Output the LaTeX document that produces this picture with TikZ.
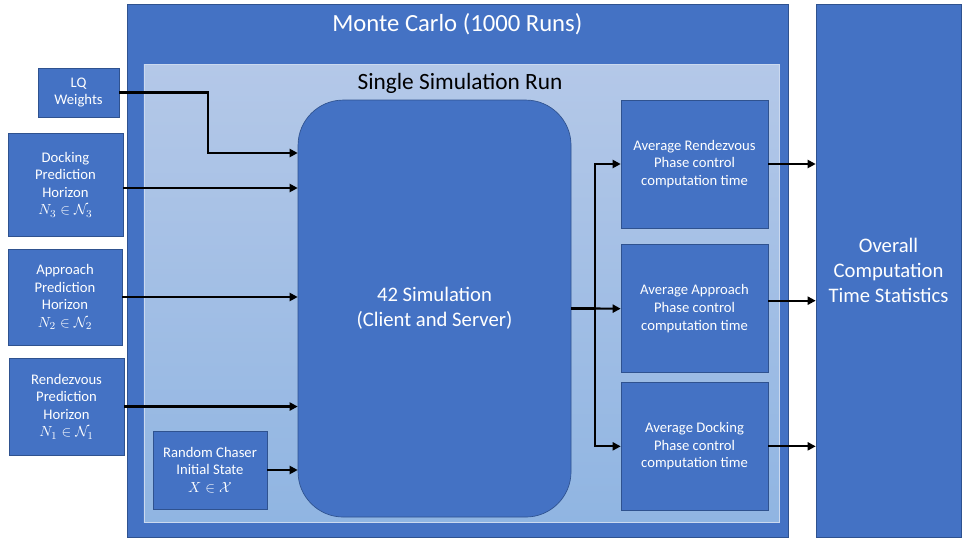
\documentclass[tikz,border=0pt]{standalone}
\usepackage{fontspec}
\setmainfont{Carlito}
\usetikzlibrary{arrows.meta, positioning, calc}
\definecolor{mcblue}{HTML}{4472C4}
\definecolor{mcedge}{HTML}{2F528F}
\definecolor{runtop}{HTML}{B4C8E8}
\definecolor{runbot}{HTML}{90B5E2}
\tikzset{
  % Blue blocks
  block/.style={
    rectangle, draw=mcedge, line width=0.5pt, fill=mcblue, text=white,
    align=center, inner sep=2pt, font=\fontsize{11}{13.2}\selectfont,
  },
  % Big text
  bigtext/.style={font=\fontsize{15.5}{18.8}\selectfont},
  % Arrows
  flow/.style={-{Triangle[length=6pt,width=6pt]}, line width=1.6pt, black},
}
\begin{document}
\begin{tikzpicture}[x=1pt, y=-1pt]

  \useasboundingbox (0,0) rectangle (723,405);

  % Monte Carlo frame
  \node[block, minimum width=495.75pt, minimum height=399.75pt] (montecarlo) at (343.1,202.9) {};
  \node[text=white, font=\fontsize{18.5}{22}\selectfont] (mctitle) at (343,18.5) {Monte Carlo (1000 Runs)};

  % Single run
  \node[rectangle, draw=runtop!70!white, line width=0.5pt, top color=runtop, bottom color=runbot,
        minimum width=476.25pt, minimum height=343.5pt] (singlerun) at (346.1,219.75) {};
  \node[font=\fontsize{17.5}{21}\selectfont] (runtitle) at (345,62.5) {Single Simulation Run};

  % Simulation
  \node[block, bigtext, rounded corners=34pt, minimum width=204.75pt, minimum height=312.75pt] (sim) at (325.9,231.4)
    {42 Simulation\\(Client and Server)};

  % Inputs
  \node[block, minimum width=60.75pt, minimum height=36.75pt] (lqw) at (58.9,69.4) {LQ\\Weights};
  \node[block, minimum width=86.25pt, minimum height=77.25pt] (dockhor) at (49.1,138.4)
    {Docking\\Prediction\\Horizon\\$N_3 \in \mathcal{N}_3$};
  \node[block, minimum width=85.5pt, minimum height=72pt] (apphor) at (48.75,222.75)
    {Approach\\Prediction\\Horizon\\$N_2 \in \mathcal{N}_2$};
  \node[block, minimum width=86.25pt, minimum height=72.75pt] (rendhor) at (49.9,304.9)
    {Rendezvous\\Prediction\\Horizon\\$N_1 \in \mathcal{N}_1$};
  \node[block, minimum width=85.5pt, minimum height=58.5pt] (chaser) at (157.5,352.5)
    {Random Chaser\\Initial State\\$X \in \mathcal{X}$};

  % Outputs
  \node[block, minimum width=110.25pt, minimum height=96pt] (avgrend) at (520.9,123)
    {Average Rendezvous\\Phase control\\computation time};
  \node[block, minimum width=110.25pt, minimum height=96pt, below=12pt of avgrend] (avgapp)
    {Average Approach\\Phase control\\computation time};
  \node[block, minimum width=110.25pt, minimum height=96pt, below=6.75pt of avgapp] (avgdock)
    {Average Docking\\Phase control\\computation time};

  \node[block, bigtext, minimum width=108.75pt, minimum height=399.75pt] (overall) at (666.4,202.9)
    {Overall\\Computation\\Time Statistics};

  % Arrows in
  \coordinate (lqbend) at (156,114.75);
  \draw[flow] (lqw.east) -| (lqbend) -- (sim.west |- lqbend);
  \draw[flow] ([yshift=-2.6pt]dockhor.east) coordinate (d3) -- (sim.west |- d3);
  \draw[flow] (apphor.east) -- (sim.west |- apphor.east);
  \draw[flow] (rendhor.east) -- (sim.west |- rendhor.east);
  \draw[flow] (chaser.east) -- (sim.west |- chaser.east);

  % Arrows out
  \draw[line width=1.6pt] (sim.east) -- ++(18,0) coordinate (split);
  \draw[flow] (split) |- (avgrend.west);
  \draw[flow] (split) -- (avgapp.west);
  \draw[flow] (split) |- (avgdock.west);
  \draw[flow] (avgrend.east) -- (overall.west |- avgrend.east);
  \draw[flow] ([yshift=6pt]avgapp.east) coordinate (a2) -- (overall.west |- a2);
  \draw[flow] (avgdock.east) -- (overall.west |- avgdock.east);

\end{tikzpicture}
\end{document}
